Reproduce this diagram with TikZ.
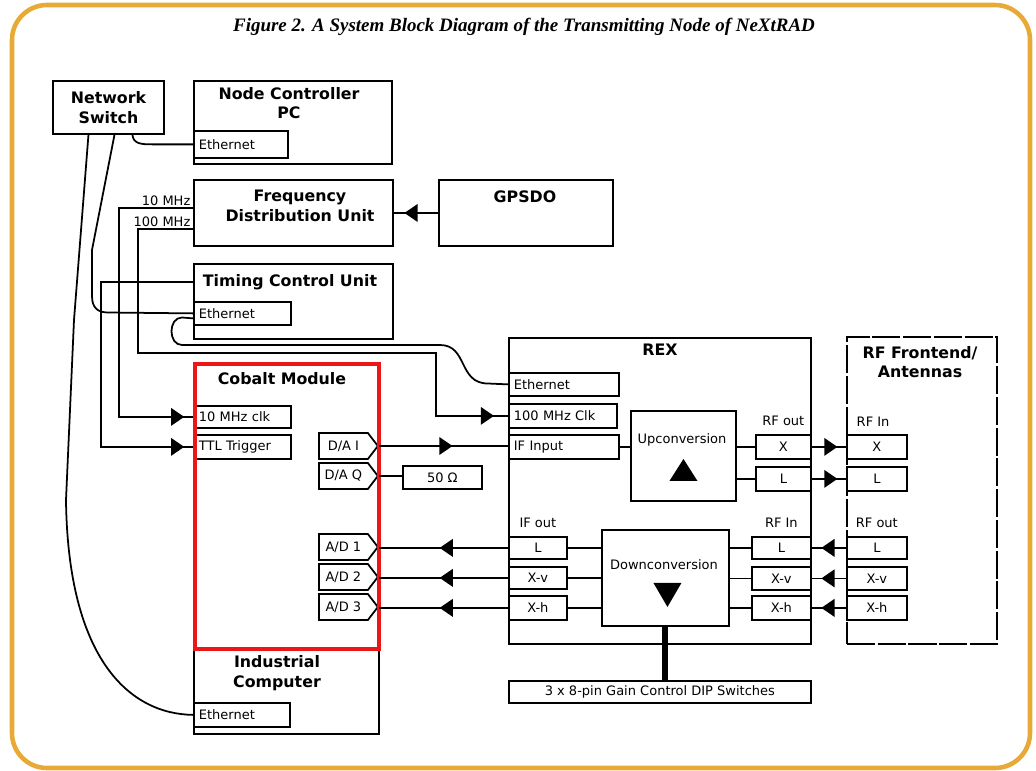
\documentclass[tikz,border=0pt]{standalone}
\usepackage{fontspec}
\setmainfont{DejaVu Sans}
\newfontfamily\capfont{Liberation Serif}
\usepackage{tikz}
\usetikzlibrary{arrows.meta,positioning,calc,shapes.symbols,decorations.markings}

\definecolor{frameorange}{RGB}{232,170,55}
\definecolor{cobaltred}{RGB}{236,22,22}
\newcommand{\hdfont}{\fontsize{9}{11}\selectfont\bfseries}
\newcommand{\smfont}{\fontsize{7.4}{8.5}\selectfont}

\begin{document}
\begin{tikzpicture}[x=0.02cm, y=-0.02cm, line width=1pt,
  unit/.style={draw, line width=1.1pt, anchor=north west, inner sep=0pt},
  hd/.style={font=\hdfont, align=center},
  lbl/.style={font=\smfont},
  port/.style={draw, line width=1pt, anchor=north west, font=\smfont,
    inner xsep=0.1cm, inner ysep=0pt, text width=#1, align=left},
  cport/.style={draw, line width=1pt, anchor=north west, font=\smfont,
    inner sep=0pt, align=center},
  pin/.style={draw, line width=1pt, anchor=west, font=\smfont, signal,
    signal to=east, signal pointer angle=105, inner xsep=2pt, inner ysep=0pt,
    minimum width=1.18cm, minimum height=0.52cm},
  arr/.style={postaction={decorate}, decoration={markings,
    mark=at position #1 with {\arrow{Triangle[length=7.5pt, width=10pt]}}}},
  arr/.default=0.5]
\useasboundingbox (0,0) rectangle (1036,771);
% ================= frame and caption =================
\draw[frameorange, line width=2.6pt, rounded corners=0.7cm] (12,5) rectangle (1030,768);
\node[font=\capfont\bfseries\itshape\fontsize{10.8}{13}\selectfont] (cap) at (524,27)
  {Figure 2. A System Block Diagram of the Transmitting Node of NeXtRAD};
% ================= left column =================
\node[unit, hd, minimum width=2.22cm, minimum height=1.06cm] (ns) at (52,80) {Network\\Switch};
% --- node controller ---
\node[unit, minimum width=3.96cm, minimum height=1.66cm] (ncpc) at (193,80) {};
\node[hd] (ncpct) at (289,103) {Node Controller\\PC};
\node[port=1.68cm, minimum height=0.54cm] (ethnc) at (193,130) {Ethernet};
% --- frequency distribution / gpsdo ---
\node[unit, minimum width=3.98cm, minimum height=1.32cm] (fdu) at (193,179) {};
\node[hd] (fdut) at (300,206) {Frequency\\Distribution Unit};
\node[unit, minimum width=3.48cm, minimum height=1.32cm] (gps) at (438,179) {};
\node[hd] (gpst) at (525,197) {GPSDO};
% --- timing control ---
\node[unit, minimum width=3.98cm, minimum height=1.5cm] (tcu) at (193,263) {};
\node[hd] (tcut) at (290,282) {Timing Control Unit};
\node[port=1.74cm, minimum height=0.46cm] (etht) at (193,301) {Ethernet};
% --- industrial computer ---
\node[unit, minimum width=3.7cm, minimum height=1.72cm] (ic) at (193,647) {};
\node[hd] (ict) at (277,673) {Industrial\\Computer};
\node[port=1.72cm, minimum height=0.48cm] (ethic) at (193,702) {Ethernet};
% --- cobalt module ---
\node[port=1.74cm, minimum height=0.44cm] (clk10) at (193,405) {10 MHz clk};
\node[port=1.74cm, minimum height=0.48cm] (ttl) at (193,434) {TTL Trigger};
\node[pin] (dai) at (318,446) {D/A I};
\node[pin] (daq) at (318,476) {D/A Q};
\node[pin] (ad1) at (318,547) {A/D 1};
\node[pin] (ad2) at (318,577) {A/D 2};
\node[pin] (ad3) at (318,607) {A/D 3};
\node[draw=cobaltred, line width=2.3pt, anchor=north west, inner sep=0pt,
  minimum width=3.68cm, minimum height=5.7cm] (cobalt) at (193,362) {};
\node[hd] (cobt) at (282,379) {Cobalt Module};
\node[cport, minimum width=1.58cm, minimum height=0.46cm] (ohm) at (402,465) {50 Ω};
% ================= REX =================
\node[unit, minimum width=6.04cm, minimum height=6.12cm] (rex) at (508,337) {};
\node[hd] (rext) at (660,350) {REX};
\node[port=2.0cm, minimum height=0.46cm] (ethrex) at (508,372) {Ethernet};
\node[port=1.96cm, minimum height=0.48cm] (clk100) at (508,403) {100 MHz Clk};
\node[port=2.0cm, minimum height=0.48cm] (ifin) at (508,434) {IF Input};
% up path
\node[unit, minimum width=2.1cm, minimum height=1.8cm] (upc) at (630,410) {};
\node[lbl] (upct) at (682,440) {Upconversion};
\fill ($(upc.center)+(-14,25)$) -- ++(28,0) -- ++(-14,-22) -- cycle;
\node[cport, minimum width=1.1cm, minimum height=0.48cm] (xout) at (755,434) {X};
\node[cport, minimum width=1.1cm, minimum height=0.48cm] (lout) at (755,466) {L};
\node[lbl, above=1pt of xout] (rfout) {RF out};
% down path
\node[cport, minimum width=1.16cm, minimum height=0.44cm] (ifl) at (508,536) {L};
\node[cport, minimum width=1.16cm, minimum height=0.44cm] (ifxv) at (508,566) {X-v};
\node[cport, minimum width=1.16cm, minimum height=0.48cm] (ifxh) at (508,595) {X-h};
\node[lbl, above=1pt of ifl] (ifout) {IF out};
\node[unit, minimum width=2.54cm, minimum height=1.92cm] (dnc) at (601,529) {};
\node[lbl] (dnct) at (664,565) {Downconversion};
\fill ($(dnc.center)+(-12,5)$) -- ++(28,0) -- ++(-14,24) -- cycle;
\node[cport, minimum width=1.18cm, minimum height=0.44cm] (inl) at (751,536) {L};
\node[cport, minimum width=1.18cm, minimum height=0.46cm] (inxv) at (751,566) {X-v};
\node[cport, minimum width=1.18cm, minimum height=0.48cm] (inxh) at (751,595) {X-h};
\node[lbl, above=1pt of inl] (rfin) {RF In};
\node[cport, minimum width=6.04cm, minimum height=0.44cm] (dip) at (508,680)
  {3 x 8-pin Gain Control DIP Switches};
% ================= RF frontend =================
\node[draw, line width=1.1pt, dash pattern=on 16pt off 1.5pt, anchor=north west,
  minimum width=3cm, minimum height=6.14cm] (fe) at (846,336) {};
\node[hd] (fet) at (920,362) {RF Frontend/\\Antennas};
\node[cport, minimum width=1.2cm, minimum height=0.48cm] (fex) at (846,434) {X};
\node[cport, minimum width=1.2cm, minimum height=0.48cm] (fel) at (846,466) {L};
\node[lbl, anchor=south west] (ferfin) at ($(fex.north west)+(4,-1)$) {RF In};
\node[cport, minimum width=1.2cm, minimum height=0.44cm] (fel2) at (846,536) {L};
\node[cport, minimum width=1.2cm, minimum height=0.46cm] (fexv) at (846,566) {X-v};
\node[cport, minimum width=1.2cm, minimum height=0.48cm] (fexh) at (846,595) {X-h};
\node[lbl, above=1pt of fel2] (ferfout) {RF out};
% ================= network cabling =================
\draw ($(ns.south)+(24,0)$) .. controls +(1,9) and +(-12,0) .. ($(ethnc.west)+(-40,0)$) -- (ethnc.west);
\draw ($(ns.south)+(6,0)$) -- (92,250) -- (92,296) .. controls (92,308) and (98,312.5) .. (108,312.5) -- (etht.west);
\draw ($(ns.south)+(-20,0)$) -- (74,320) -- (66,500) .. controls (68,660) and (130,714) .. (ethic.west);
\draw ($(etht.west)+(0,5)$) -- (182,317.5) .. controls (168,317.5) and (168,345) .. (182,345)
  -- (440,345) .. controls (468,345) and (458,383.5) .. (488,383.5) -- (ethrex.west);
% ================= clocks and trigger =================
\draw[arr=-5pt] ($(fdu.west)+(0,-5)$) node[lbl, anchor=south east, inner sep=1pt] (lbl10) {10 MHz}
  -- ++(-74,0) |- (clk10.west);
\draw[arr=-8pt] ($(fdu.west)+(0,16)$) node[lbl, anchor=south east, inner sep=1pt] (lbl100) {100 MHz}
  -- ++(-55,0) |- (436,353) |- (clk100.west);
\draw[arr=-5pt] ($(tcu.west)+(0,-19.5)$) -- ++(-92,0) |- (ttl.west);
\draw[arr=-6pt] (gps.west) -- (fdu.east);
% ================= signal paths =================
\draw[arr=0.57] (dai.east) -- (dai.east -| ifin.west);
\draw (daq.east) -- (daq.east -| ohm.west);
\draw[arr=0.53] (ifl.west) -- (ifl.west -| ad1.east);
\draw[arr=0.53] (ifxv.west) -- (ifxv.west -| ad2.east);
\draw[arr=0.53] (ifxh.west) -- (ifxh.west -| ad3.east);
\draw (ifin.east) -- (ifin.east -| upc.west);
\draw (upc.east |- xout.west) -- (xout.west);
\draw (upc.east |- lout.west) -- (lout.west);
\draw (dnc.west |- ifl.east) -- (ifl.east);
\draw (dnc.west |- ifxv.east) -- (ifxv.east);
\draw (dnc.west |- ifxh.east) -- (ifxh.east);
\draw (dnc.east |- inl.west) -- (inl.west);
\draw (dnc.east |- inxv.west) -- (inxv.west);
\draw (dnc.east |- inxh.west) -- (inxh.west);
\draw[line width=3.4pt] (dnc.south) -- (dnc.south |- dip.north);
\draw[arr=0.75] (xout.east) -- (fex.west);
\draw[arr=0.75] (lout.east) -- (fel.west);
\draw[arr=0.72] (fel2.west) -- (inl.east);
\draw[arr=0.72] (fexv.west) -- (inxv.east);
\draw[arr=0.72] (fexh.west) -- (inxh.east);
\end{tikzpicture}
\end{document}
